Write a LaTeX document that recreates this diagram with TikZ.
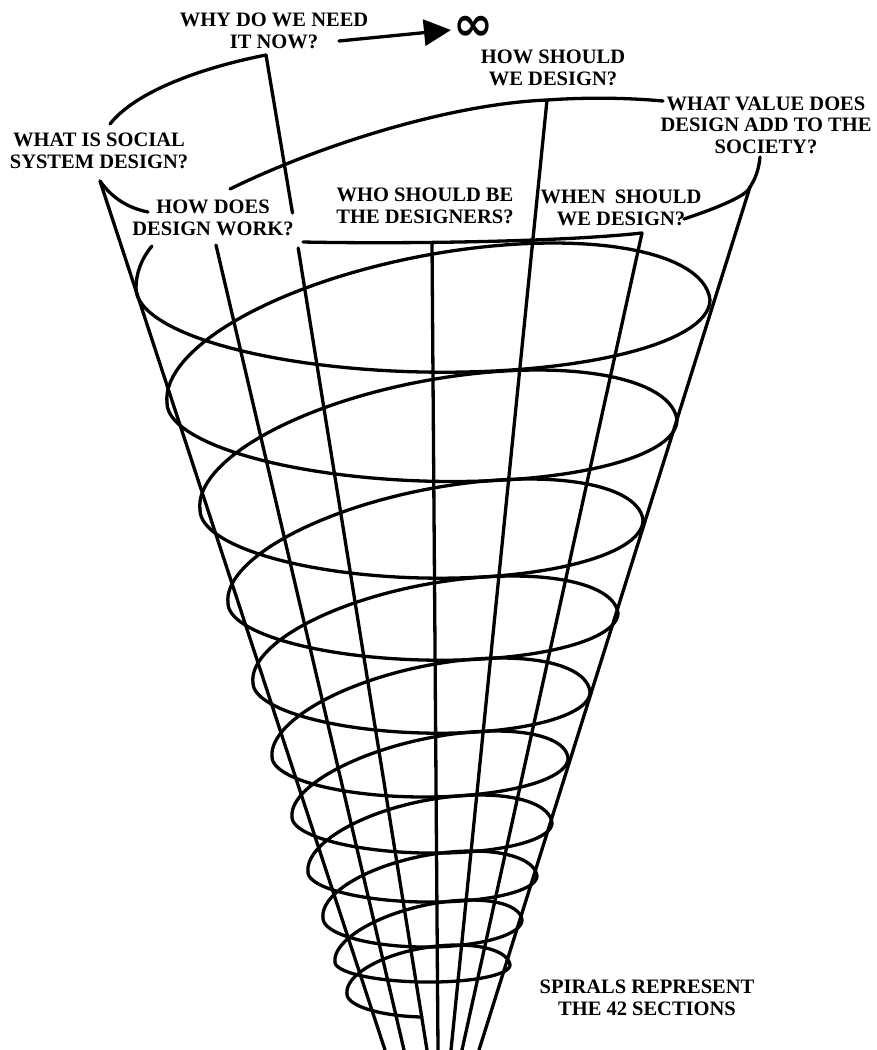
\documentclass[tikz,border=0pt]{standalone}
\usepackage{fontspec}
\setmainfont{Liberation Serif}
\newfontfamily\symfont{DejaVu Sans}
\usetikzlibrary{arrows.meta}
\begin{document}
\begin{tikzpicture}[x=1pt,y=-1pt,
  lbl/.style={font=\fontsize{20.5}{21.5}\selectfont\bfseries, align=center, inner sep=1pt},
  wire/.style={line width=3.3pt, line cap=round, line join=round},
  spiral/.style={line width=3.3pt, line cap=round, line join=round}]
\useasboundingbox[fill=white] (0,0) rectangle (877,1050);

% ---------- labels ----------
\node[lbl] (why)  at (274,31)  {WHY DO WE NEED\\IT NOW?};
\node[lbl] (what) at (99,151)  {WHAT IS SOCIAL\\SYSTEM DESIGN?};
\node[lbl] (hdw)  at (213,218) {HOW DOES\\DESIGN WORK?};
\node[lbl] (who)  at (425,206) {WHO SHOULD BE\\THE DESIGNERS?};
\node[lbl] (when) at (621,208) {WHEN\hspace{0.2em} SHOULD\\WE DESIGN?};
\node[lbl] (hsw)  at (553,68)  {HOW SHOULD\\WE DESIGN?};
\node[lbl] (val)  at (766,125) {WHAT VALUE DOES\\DESIGN ADD TO THE\\SOCIETY?};
\node[lbl] (spi)  at (647,998) {SPIRALS REPRESENT\\THE 42 SECTIONS};
\node[inner sep=0pt, font=\symfont\bfseries\fontsize{48}{48}\selectfont] (infty) at (473,28) {∞};

% ---------- named points ----------
\coordinate (arrs) at (339,41);
\coordinate (arre) at (451,30);
\coordinate (c1a) at (110,124);
\coordinate (j5)  at (266,55);
\coordinate (p1)  at (100,181);
\coordinate (c2b) at (148,212);
\coordinate (c3a) at (230,189);
\coordinate (j1)  at (547,100);
\coordinate (c3b) at (663,101);
\coordinate (c4a) at (303,242);
\coordinate (j2)  at (432,243);
\coordinate (j3)  at (642,233);
\coordinate (c5a) at (684,219);
\coordinate (j4)  at (750,187);
\coordinate (c5b) at (760,157);
\coordinate (p2)  at (216,245);
\coordinate (l3a) at (292.5,213);
\coordinate (l3b) at (298.2,248);
\coordinate (b1) at (385,1050);
\coordinate (b2) at (404,1050);
\coordinate (b3) at (427,1050);
\coordinate (b4) at (438,1050);
\coordinate (b5) at (451,1050);
\coordinate (b6) at (462,1050);
\coordinate (b7) at (479,1050);

% ---------- connectors ----------
\draw[wire,-{Triangle[length=27pt,width=26pt]}] (arrs) -- (arre);
\draw[wire] (c1a) .. controls (135,92) and (200,68) .. (j5);
\draw[wire] (p1) .. controls (112,198) and (128,208) .. (c2b);
\draw[wire] (c3a) .. controls (320,145) and (450,104) .. (j1)
                  .. controls (590,97) and (630,98) .. (c3b);
\draw[wire] (c4a) .. controls (400,244) and (560,242) .. (j3);
\draw[wire] (c5a) .. controls (720,207) and (748,195) .. (j4)
                  .. controls (756,178) and (759,168) .. (c5b);

% ---------- radial lines ----------
\draw[wire] (p1) -- (b1);
\draw[wire] (p2) -- (b2);
\draw[wire] (j5) -- (l3a);
\draw[wire] (l3b) -- (b3);
\draw[wire] (j2) -- (b4);
\draw[wire] (j1) -- (b5);
\draw[wire] (j3) -- (b6);
\draw[wire] (j4) -- (b7);

% ---------- spiral ----------
\draw[spiral] (152,246) .. controls (141,259) and (136,274) .. (136,288);
\foreach \xl/\yl/\xr/\yr/\yf/\yt/\xn/\yn in {
  136/288/710/300/372/243/167/403,
  167/403/677/420/481/370/200/510,
  200/510/643/520/578/479/228/603,
  228/603/618/613/660/576/253/683,
  253/683/590/692/733/658/272/757,
  272/757/568/758/797/731/292/817,
  292/817/552/823/853/795/308/872,
  308/872/537/876/902/851/323/918,
  323/918/522/920/947/900/335/962,
  335/962/510/965/982/945/347/994}{
  \pgfmathsetmacro\rL{422-\xl}
  \pgfmathsetmacro\rR{\xr-422}
  \pgfmathsetmacro\rN{422-\xn}
  \pgfmathsetmacro\dep{\yf-(\yl+\yr)/2}
  \pgfmathsetmacro\ym{(\yr+\yn)/2}
  \pgfmathsetmacro\ya{(\yn-\yr)/2}
  \pgfmathsetmacro\yh{sqrt((\ym-\yt)^2-\ya^2)}
  \draw[spiral]
    plot[domain=0:180,samples=61,variable=\q]
      ({422-(\rL+(\rR-\rL)*\q/180)*cos(\q)},{(\yl+\yr)/2+(\yl-\yr)/2*cos(\q)+\dep*sin(\q)})
    -- plot[domain=0:180,samples=61,variable=\q]
      ({422+(\rR+(\rN-\rR)*\q/180)*cos(\q)},{\ym-\ya*cos(\q)-\yh*sin(\q)});
}
\draw[spiral] plot[domain=0:90,samples=31,variable=\q]
  ({422-75*cos(\q)},{995.5-1.5*cos(\q)+21.5*sin(\q)});
\end{tikzpicture}
\end{document}
